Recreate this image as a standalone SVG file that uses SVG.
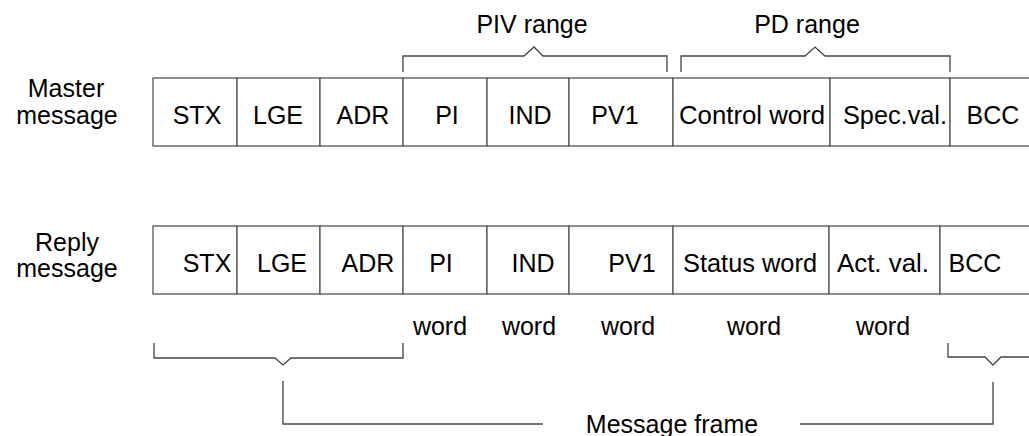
<svg xmlns="http://www.w3.org/2000/svg" width="1029" height="436" viewBox="0 0 1029 436">
<style>
.c{fill:#fff;stroke:#555;stroke-width:1.3}
.t{font-family:"Liberation Sans",Arial,sans-serif;font-size:25px;fill:#000;text-anchor:middle}
.b{fill:none;stroke:#444;stroke-width:1.3}
</style>
<rect width="1029" height="436" fill="#fff"/>
<g id="labels">
<text class="t" x="66" y="97">Master</text>
<text class="t" x="67" y="124">message</text>
<text class="t" x="67" y="251">Reply</text>
<text class="t" x="67" y="277">message</text>
<text class="t" x="532" y="33">PIV range</text>
<text class="t" x="807" y="33">PD range</text>
<text class="t" x="672" y="433">Message frame</text>
</g>
<g id="master">
<g id="m-stx"><rect class="c" x="153" y="78" width="84" height="68"/><text class="t" x="197" y="124">STX</text></g>
<g id="m-lge"><rect class="c" x="237" y="78" width="83" height="68"/><text class="t" x="278" y="124">LGE</text></g>
<g id="m-adr"><rect class="c" x="320" y="78" width="83" height="68"/><text class="t" x="363" y="124">ADR</text></g>
<g id="m-pi"><rect class="c" x="403" y="78" width="84" height="68"/><text class="t" x="447" y="124">PI</text></g>
<g id="m-ind"><rect class="c" x="487" y="78" width="82" height="68"/><text class="t" x="530" y="124">IND</text></g>
<g id="m-pv1"><rect class="c" x="569" y="78" width="104" height="68"/><text class="t" x="615" y="124">PV1</text></g>
<g id="m-ctrl"><rect class="c" x="673" y="78" width="157" height="68"/><text class="t" x="752" y="124" textLength="146" lengthAdjust="spacingAndGlyphs">Control word</text></g>
<g id="m-spec"><rect class="c" x="830" y="78" width="120" height="68"/><text class="t" x="895" y="124" textLength="104" lengthAdjust="spacingAndGlyphs">Spec.val.</text></g>
<g id="m-bcc"><rect class="c" x="950" y="78" width="100" height="68"/><text class="t" x="993" y="124">BCC</text></g>
</g>
<g id="reply">
<g id="r-stx"><rect class="c" x="153" y="226" width="84" height="68"/><text class="t" x="207" y="272">STX</text></g>
<g id="r-lge"><rect class="c" x="237" y="226" width="83" height="68"/><text class="t" x="282" y="272">LGE</text></g>
<g id="r-adr"><rect class="c" x="320" y="226" width="83" height="68"/><text class="t" x="368" y="272">ADR</text></g>
<g id="r-pi"><rect class="c" x="403" y="226" width="84" height="68"/><text class="t" x="441" y="272">PI</text></g>
<g id="r-ind"><rect class="c" x="487" y="226" width="82" height="68"/><text class="t" x="533" y="272">IND</text></g>
<g id="r-pv1"><rect class="c" x="569" y="226" width="104" height="68"/><text class="t" x="632" y="272">PV1</text></g>
<g id="r-status"><rect class="c" x="673" y="226" width="156" height="68"/><text class="t" x="750" y="272" textLength="134" lengthAdjust="spacingAndGlyphs">Status word</text></g>
<g id="r-act"><rect class="c" x="829" y="226" width="111" height="68"/><text class="t" x="883" y="272" textLength="92" lengthAdjust="spacingAndGlyphs">Act. val.</text></g>
<g id="r-bcc"><rect class="c" x="940" y="226" width="110" height="68"/><text class="t" x="975" y="272">BCC</text></g>
</g>
<g id="words">
<text class="t" x="440" y="335">word</text>
<text class="t" x="529" y="335">word</text>
<text class="t" x="628" y="335">word</text>
<text class="t" x="754" y="335">word</text>
<text class="t" x="883" y="335">word</text>
</g>
<g id="connectors">
<path class="b" d="M403 72V56H524L534 47L543 56H667V72"/>
<path class="b" d="M681 72V56H805L815 47L825 56H950V72"/>
<path class="b" d="M154 343V358H275L283 365L291 358H403V343"/>
<path class="b" d="M948 343V357H985L993 365L1001 357H1030"/>
<path class="b" d="M283 381V424H543"/>
<path class="b" d="M800 424H993V382"/>
</g>
</svg>
